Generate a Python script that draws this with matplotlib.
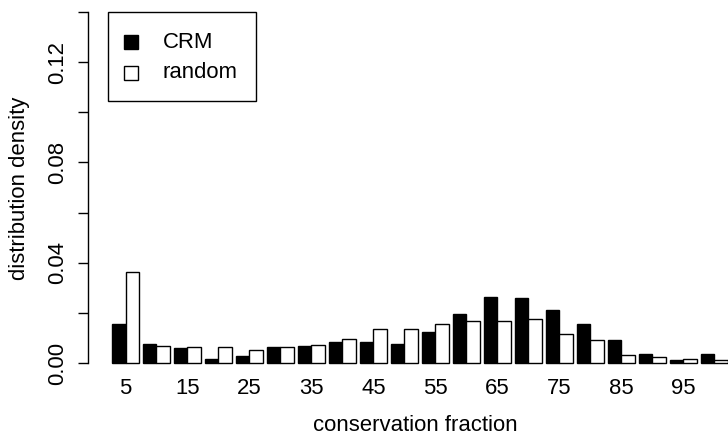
import matplotlib
matplotlib.use("Agg")
import matplotlib.pyplot as plt
from matplotlib.patches import Rectangle
import numpy as np

plt.rcParams['font.family'] = ['Liberation Sans', 'DejaVu Sans']

categories = [5, 10, 15, 20, 25, 30, 35, 40, 45, 50, 55, 60, 65, 70, 75, 80, 85, 90, 95, 100]
crm = [0.0156, 0.0077, 0.0061, 0.0015, 0.0029, 0.0062, 0.0069, 0.0085, 0.0085, 0.0077,
       0.0125, 0.0195, 0.0265, 0.0258, 0.0210, 0.0156, 0.0093, 0.0036, 0.0012, 0.0036]
rnd = [0.0362, 0.0068, 0.0062, 0.0062, 0.0052, 0.0062, 0.0073, 0.0094, 0.0137, 0.0137,
       0.0156, 0.0166, 0.0166, 0.0177, 0.0116, 0.0090, 0.0031, 0.0024, 0.0016, 0.0012]
series_names = ["CRM", "random"]
yticks = [0.0, 0.02, 0.04, 0.06, 0.08, 0.10, 0.12, 0.14]

W, H = 728, 440
fig = plt.figure(figsize=(W / 100, H / 100), dpi=100)

# axes placement in pixels
left_px, right_px = 88, 728
top_px, bot_px = -2.0, 377.0
ax = fig.add_axes([left_px / W, 1 - bot_px / H, (right_px - left_px) / W, (bot_px - top_px) / H])

x = np.arange(len(categories))
bw = 0.435
ax.bar(x - bw / 2, crm, width=bw, color='black', edgecolor='black', linewidth=1.0)
ax.bar(x + bw / 2, rnd, width=bw, color='white', edgecolor='black', linewidth=1.0)

ax.set_xlim(-1.21, 19.44)
ax.set_ylim(-0.0056, 0.1456)

for s in ['top', 'right', 'bottom']:
    ax.spines[s].set_visible(False)
ax.spines['left'].set_bounds(0, 0.14)
ax.spines['left'].set_linewidth(1.0)

ax.set_yticks(yticks)
ax.set_yticklabels(["%.2f" % v if round(v / 0.04, 6).is_integer() else "" for v in yticks],
                   rotation=90, va='center', fontsize=15.9)
ax.tick_params(axis='y', length=7, width=1.0, pad=7)

ax.set_xticks(x[::2])
ax.set_xticklabels([str(c) for c in categories[::2]], fontsize=15.9)
ax.tick_params(axis='x', length=0, pad=1)

fig.text(415 / W, 1 - 425 / H, "conservation fraction", ha='center', va='center', fontsize=15.9)
fig.text(20 / W, 1 - 188 / H, "distribution density", ha='center', va='center', rotation=90, fontsize=15.9)

# legend
fig.patches.append(Rectangle((108 / W, 1 - 101 / H), (256 - 108) / W, (101 - 12) / H,
                             transform=fig.transFigure, facecolor='white', edgecolor='black', linewidth=1.0))
sq = 14
for (cy, fc, name) in [(42.5, 'black', series_names[0]), (73, 'white', series_names[1])]:
    fig.patches.append(Rectangle((123.5 / W, 1 - (cy + sq / 2) / H), sq / W, sq / H,
                                 transform=fig.transFigure, facecolor=fc, edgecolor='black', linewidth=1.0))
    fig.text(163 / W, 1 - cy / H, name, ha='left', va='center', fontsize=15.9)

fig.savefig("out.png", dpi=100)
